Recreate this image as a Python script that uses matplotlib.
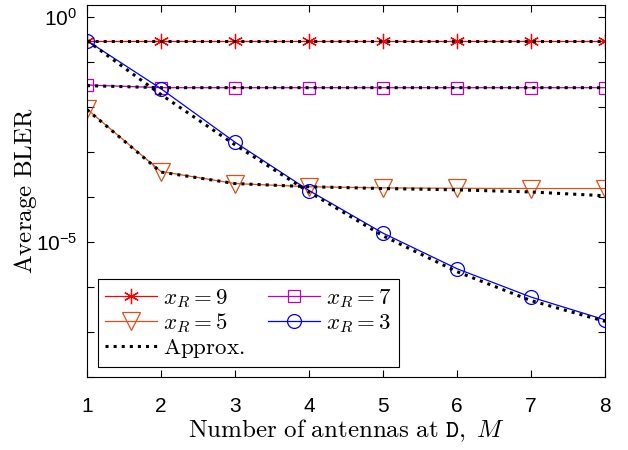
import numpy as np
import matplotlib
matplotlib.use('Agg')
import matplotlib.pyplot as plt
from matplotlib.ticker import FixedLocator, NullFormatter

plt.rcParams['mathtext.fontset'] = 'cm'
plt.rcParams['font.family'] = ['Liberation Sans', 'DejaVu Sans']

M = [1, 2, 3, 4, 5, 6, 7, 8]
bler_9 = [0.30, 0.30, 0.30, 0.30, 0.30, 0.30, 0.30, 0.30]
bler_7 = [0.031, 0.027, 0.027, 0.027, 0.027, 0.027, 0.027, 0.027]
bler_5 = [9.0e-3, 3.7e-4, 2.0e-4, 1.7e-4, 1.6e-4, 1.57e-4, 1.55e-4, 1.55e-4]
bler_3 = [0.30, 0.0256, 1.66e-3, 1.4e-4, 1.58e-5, 2.56e-6, 6.0e-7, 1.87e-7]
approx_9 = bler_9
approx_7 = [0.030, 0.027, 0.027, 0.027, 0.027, 0.027, 0.027, 0.027]
approx_5 = [8.8e-3, 3.6e-4, 2.0e-4, 1.7e-4, 1.55e-4, 1.45e-4, 1.3e-4, 1.07e-4]
approx_3 = [0.30, 0.019, 1.45e-3, 1.3e-4, 1.38e-5, 2.2e-6, 5.0e-7, 1.73e-7]

fig = plt.figure(figsize=(6.28, 4.5), dpi=100)
ax = fig.add_axes([0.1385, 0.162, 0.825, 0.827])

lw = 0.9
h9, = ax.plot(M, bler_9, color='red', lw=lw, marker=(6, 2, 0), ms=11, mew=0.9, label=r'$x_R=9$')
h7, = ax.plot(M, bler_7, color=(0.75, 0, 0.75), lw=lw, marker='s', ms=9, mfc='none', mew=0.9, label=r'$x_R=7$')
h5, = ax.plot(M, bler_5, color=(0.85, 0.325, 0.098), lw=lw, marker='v', ms=12.5, mfc='none', mew=0.9, label=r'$x_R=5$')
h3, = ax.plot(M, bler_3, color='blue', lw=lw, marker='o', ms=10, mfc='none', mew=0.9, label=r'$x_R=3$')
for a in [approx_9, approx_7, approx_5]:
    ax.plot(M, a, color='black', ls=':', lw=2.2)
ha, = ax.plot(M, approx_3, color='black', ls=':', lw=2.2, label=r'$\mathrm{Approx.}$')

ax.set_yscale('log')
ax.set_xlim(1, 8)
ax.set_ylim(1e-8, 10 ** 0.27)
ax.yaxis.set_major_locator(FixedLocator([1e0, 1e-5]))
ax.yaxis.set_minor_locator(FixedLocator([1e-1, 1e-2, 1e-3, 1e-4, 1e-6, 1e-7, 1e-8]))
ax.yaxis.set_minor_formatter(NullFormatter())
ax.set_xticks(M)
ax.tick_params(which='both', direction='in', top=True, right=True, labelsize=15, width=0.8, length=5)
ax.tick_params(axis='x', pad=14)
ax.tick_params(axis='y', pad=7)
for s in ax.spines.values():
    s.set_linewidth(0.8)

ax.set_xlabel(r'$\mathrm{Number\ of\ antennas\ at\ }\mathtt{D},\ M$', fontsize=18, labelpad=1)
ax.set_ylabel(r'$\mathrm{Average\ BLER}$', fontsize=18, labelpad=-2)

leg = ax.legend(handles=[h9, h5, ha, h7, h3], ncol=2, loc='lower left',
                bbox_to_anchor=(0.021, 0.027), fontsize=16.5, frameon=True, fancybox=False,
                framealpha=1, edgecolor='black', handlelength=2.3, columnspacing=1.0,
                borderaxespad=0, handletextpad=0.25, labelspacing=0.05, borderpad=0.3)
leg.get_frame().set_linewidth(0.8)

fig.savefig('out.png', dpi=100)
